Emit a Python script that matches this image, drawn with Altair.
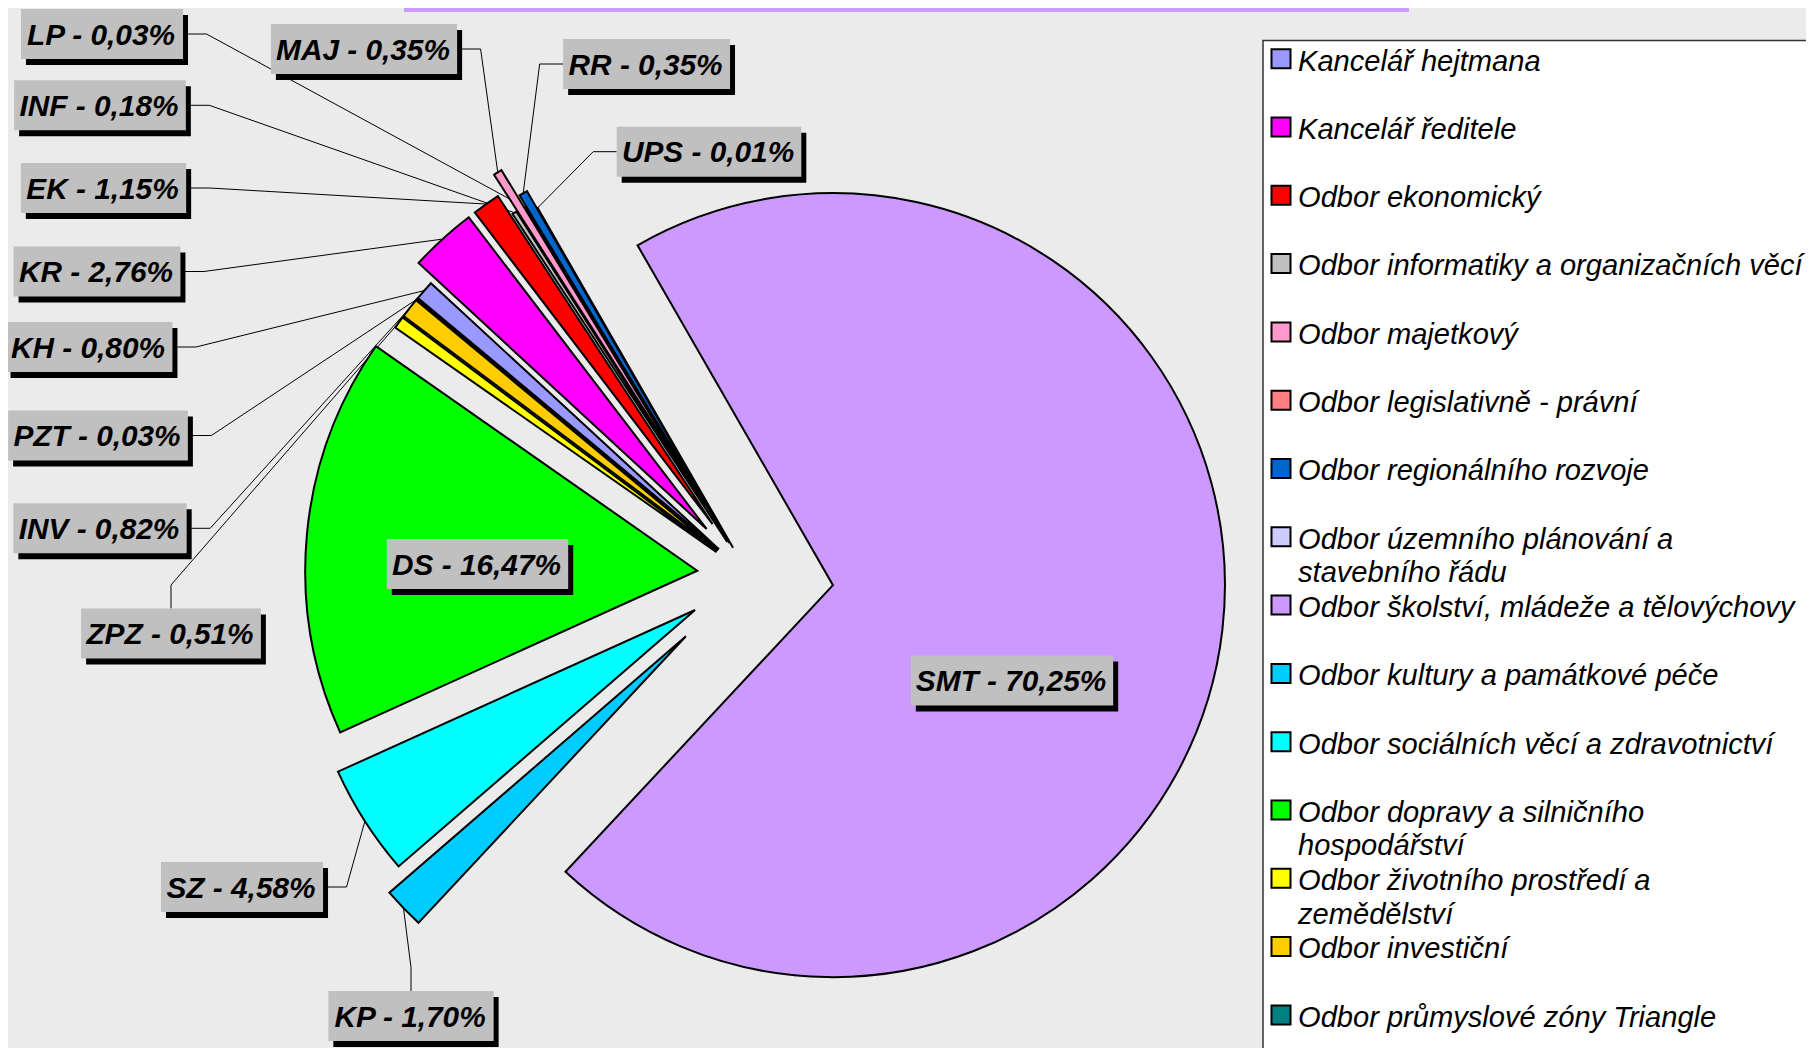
import math
import altair as alt
import pandas as pd

# ---------------- data ----------------
codes = ["KH", "KR", "EK", "INF", "MAJ", "LP", "RR", "UPS",
         "SMT", "KP", "SZ", "DS", "ZPZ", "INV", "PZT"]
names = [
    "Kancelář hejtmana",
    "Kancelář ředitele",
    "Odbor ekonomický",
    "Odbor informatiky a organizačních věcí",
    "Odbor majetkový",
    "Odbor legislativně - právní",
    "Odbor regionálního rozvoje",
    "Odbor územního plánování a\nstavebního řádu",
    "Odbor školství, mládeže a tělovýchovy",
    "Odbor kultury a památkové péče",
    "Odbor sociálních věcí a zdravotnictví",
    "Odbor dopravy a silničního\nhospodářství",
    "Odbor životního prostředí a\nzemědělství",
    "Odbor investiční",
    "Odbor průmyslové zóny Triangle",
]
shares = [0.80, 2.76, 1.15, 0.18, 0.35, 0.03, 0.35, 0.01,
          70.25, 1.70, 4.58, 16.47, 0.51, 0.82, 0.03]

# ---------------- styles / layout ----------------
colors = ["#9999FF", "#FF00FF", "#FF0000", "#C0C0C0", "#FF99CC", "#FF8080",
          "#0066CC", "#CCCCFF", "#CC99FF", "#00CCFF", "#00FFFF", "#00FF00",
          "#FFFF00", "#FFCC00", "#008080"]
explode_px = [40, 63, 63, 40, 83, 38, 52, 32, 84.5, 87.6, 64, 52, 40, 40, 40]
START_DEG = -50.17
CX, CY, R = 749, 575.5, 392
label_center = {
    "LP": (102, 34), "INF": (100, 105.3), "EK": (103.5, 188), "KR": (97, 271.5),
    "KH": (89, 347), "PZT": (98, 435.5), "INV": (100, 528.3), "ZPZ": (171, 633.5),
    "MAJ": (364, 49), "RR": (646.6, 64), "UPS": (709, 151.7), "DS": (477.5, 564),
    "SMT": (1012, 680.5), "SZ": (242, 887), "KP": (411, 1016),
}
attach = {"LP": "right", "INF": "right", "EK": "right", "KR": "right", "KH": "right",
          "PZT": "right", "INV": "right", "ZPZ": "top", "MAJ": "right", "RR": "left",
          "UPS": "left", "SZ": "right", "KP": "top"}
STUB = 23.5
FONT = "Liberation Sans"
LABEL_FS = 29.8
BOX_H = 50
LEG_FS = 29.1
W, H = 1798, 1040

bold_w = {'A': .722, 'B': .722, 'C': .722, 'D': .722, 'E': .667, 'F': .611, 'H': .722,
          'I': .278, 'J': .556, 'K': .722, 'L': .611, 'M': .833, 'N': .722, 'P': .667,
          'R': .722, 'S': .667, 'T': .611, 'U': .722, 'V': .667, 'Z': .611, ' ': .278,
          '-': .333, ',': .278, '%': .889}


def text_w(s):
    return sum(bold_w.get(c, .556) for c in s) * 29


def pct(v):
    return f"{v:.2f}".replace(".", ",") + "%"


# ---------------- derived tables ----------------
total = sum(shares)
rows = []
acc = 0.0
for i, c in enumerate(codes):
    a0 = START_DEG + acc / total * 360
    acc += shares[i]
    a1 = START_DEG + acc / total * 360
    mid = math.radians((a0 + a1) / 2)
    e = explode_px[i]
    rows.append(dict(code=c, t0=math.radians(a0), t1=math.radians(a1),
                     cx=CX + e * math.sin(mid), cy=CY - e * math.cos(mid),
                     ex=CX + (e + R) * math.sin(mid), ey=CY - (e + R) * math.cos(mid),
                     label=f"{c} - {pct(shares[i])}"))
slices = pd.DataFrame(rows)

box_rows, line_rows = [], []
for r in rows:
    c = r["code"]
    bx, by = label_center[c]
    bw = text_w(r["label"]) + 17
    box_rows.append(dict(code=c, label=r["label"], x0=bx - bw / 2, x1=bx + bw / 2,
                         y0=by - BOX_H / 2, y1=by + BOX_H / 2,
                         sx0=bx - bw / 2 + 5, sx1=bx + bw / 2 + 5,
                         sy0=by - BOX_H / 2 + 6, sy1=by + BOX_H / 2 + 6,
                         tx=bx - 1, ty=by + 10.7))
    side = attach.get(c)
    if side:
        if side == "right":
            p0 = (bx + bw / 2, by); p1 = (p0[0] + STUB, by)
        elif side == "left":
            p0 = (bx - bw / 2, by); p1 = (p0[0] - STUB, by)
        else:
            p0 = (bx, by - BOX_H / 2); p1 = (bx, p0[1] - STUB)
        for k, p in enumerate([p0, p1, (r["ex"], r["ey"])]):
            line_rows.append(dict(code=c, seq=k, x=p[0], y=p[1]))
boxes = pd.DataFrame(box_rows)
lines = pd.DataFrame(line_rows)

LEG_X0, LEG_Y0 = 1263, 40.5
LEG_C0, LEG_STEP = 60.2, 68.3
leg = pd.DataFrame(dict(
    code=codes, name=names,
    sq_x0=[1271.5] * 15, sq_x1=[1290.5] * 15,
    sq_y0=[LEG_C0 - 1.5 + LEG_STEP * i - 9.5 for i in range(15)],
    sq_y1=[LEG_C0 - 1.5 + LEG_STEP * i + 9.5 for i in range(15)],
    tx=[1298] * 15,
    ty=[LEG_C0 + 10.3 + LEG_STEP * i for i in range(15)],
))
leg_frame = pd.DataFrame(dict(x0=[LEG_X0], x1=[1900], y0=[LEG_Y0], y1=[1200]))
title_bar = pd.DataFrame(dict(x0=[404], x1=[1409], y0=[7], y1=[12]))

# ---------------- chart ----------------
XS = alt.Scale(domain=[8, 8 + W], nice=False, zero=False)
YS = alt.Scale(domain=[8, 8 + H], nice=False, zero=False, reverse=True)
fill_scale = alt.Scale(domain=codes, range=colors)


def xy(xf, yf, x2f=None, y2f=None):
    enc = dict(x=alt.X(xf, type="quantitative", scale=XS, axis=None),
               y=alt.Y(yf, type="quantitative", scale=YS, axis=None))
    if x2f:
        enc["x2"] = alt.X2(x2f)
    if y2f:
        enc["y2"] = alt.Y2(y2f)
    return enc


bar = alt.Chart(title_bar).mark_rect(color="#CC99FF").encode(**xy("x0", "y0", "x1", "y1"))

leaders = alt.Chart(lines).mark_line(color="black", strokeWidth=1).encode(
    **xy("x", "y"), detail="code:N", order="seq:Q")

pie = alt.Chart(slices).mark_arc(radius=R, stroke="black", strokeWidth=2).encode(
    **xy("cx", "cy"),
    theta=alt.Theta("t0:Q", scale=None, stack=None),
    theta2=alt.Theta2("t1:Q"),
    fill=alt.Fill("code:N", scale=fill_scale, legend=None),
)

shadow = alt.Chart(boxes).mark_rect(color="black").encode(**xy("sx0", "sy0", "sx1", "sy1"))
box = alt.Chart(boxes).mark_rect(color="#C0C0C0").encode(**xy("x0", "y0", "x1", "y1"))
btxt = alt.Chart(boxes).mark_text(font=FONT, fontSize=LABEL_FS, fontWeight="bold",
                                  fontStyle="italic", align="center",
                                  baseline="alphabetic", color="black").encode(
    **xy("tx", "ty"), text="label:N")

frame = alt.Chart(leg_frame).mark_rect(fill="white", stroke="#333333", strokeWidth=1.5).encode(
    **xy("x0", "y0", "x1", "y1"))
squares = alt.Chart(leg).mark_rect(stroke="black", strokeWidth=2).encode(
    **xy("sq_x0", "sq_y0", "sq_x1", "sq_y1"),
    fill=alt.Fill("code:N", scale=fill_scale, legend=None))
ltxt = alt.Chart(leg).mark_text(font=FONT, fontSize=LEG_FS, fontStyle="italic", align="left",
                                baseline="alphabetic", color="black", lineBreak="\n",
                                lineHeight=33.6).encode(**xy("tx", "ty"), text="name:N")

chart = alt.layer(bar, leaders, pie, shadow, box, btxt, frame, squares, ltxt).properties(
    width=W, height=H,
    autosize=alt.AutoSizeParams(type="none"),
    padding=0,
).configure(background="#ebebeb").configure_view(stroke=None)

chart.save("out.html", embed_options={"renderer": "svg", "actions": False})
